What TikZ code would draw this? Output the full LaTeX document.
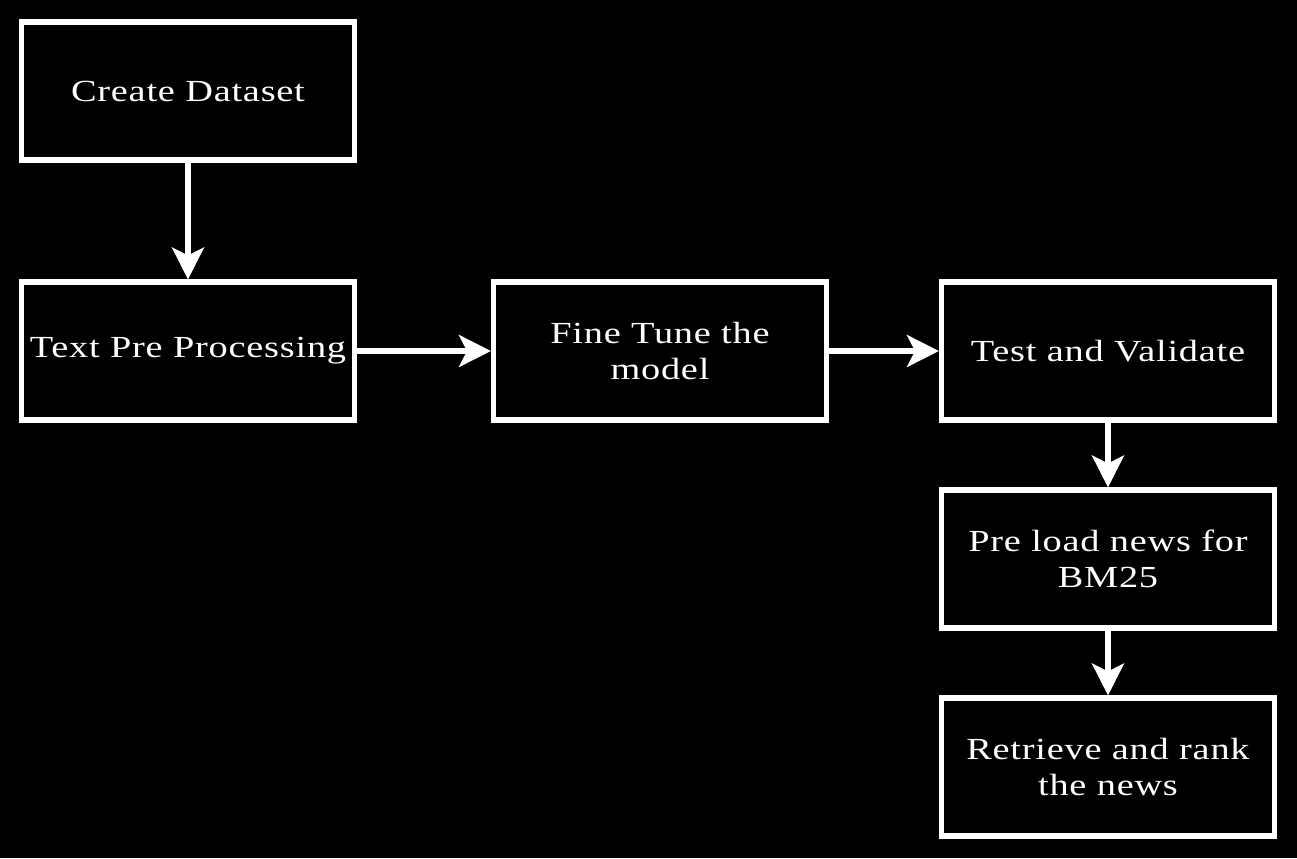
\documentclass[tikz,border=0pt]{standalone}
\usepackage{fontspec}
\setmainfont{Liberation Serif}
\newfontfamily\spaced[FakeStretch=1.25,LetterSpace=2.5]{Liberation Serif}
\usetikzlibrary{arrows.meta}
\begin{document}
\begin{tikzpicture}[x=0.75pt,y=-0.75pt,
  box/.style={draw=white,line width=3.8pt,minimum width=333*0.75pt,minimum height=138*0.75pt,text=white,align=center,font=\spaced\fontsize{23}{27}\selectfont,inner sep=0pt},
  arr/.style={draw=white,line width=3.8pt,-{Stealth[length=24pt,width=24pt,inset=6pt]}}]
\fill[black] (0,0) rectangle (1297,858);
\useasboundingbox (0,0) rectangle (1297,858);
\node[box] (a) at (188,91) {Create Dataset};
\node[box] (b) at (188,351) {Text Pre Processing};
\node[box] (c) at (660,351) {Fine Tune the\\model};
\node[box] (d) at (1108,351) {Test and Validate};
\node[box] (e) at (1108,559) {Pre load news for\\BM25};
\node[box] (f) at (1108,767) {Retrieve and rank\\the news};
\draw[arr] (a) -- (b);
\draw[arr] (b) -- (c);
\draw[arr] (c) -- (d);
\draw[arr] (d) -- (e);
\draw[arr] (e) -- (f);
\end{tikzpicture}
\end{document}
